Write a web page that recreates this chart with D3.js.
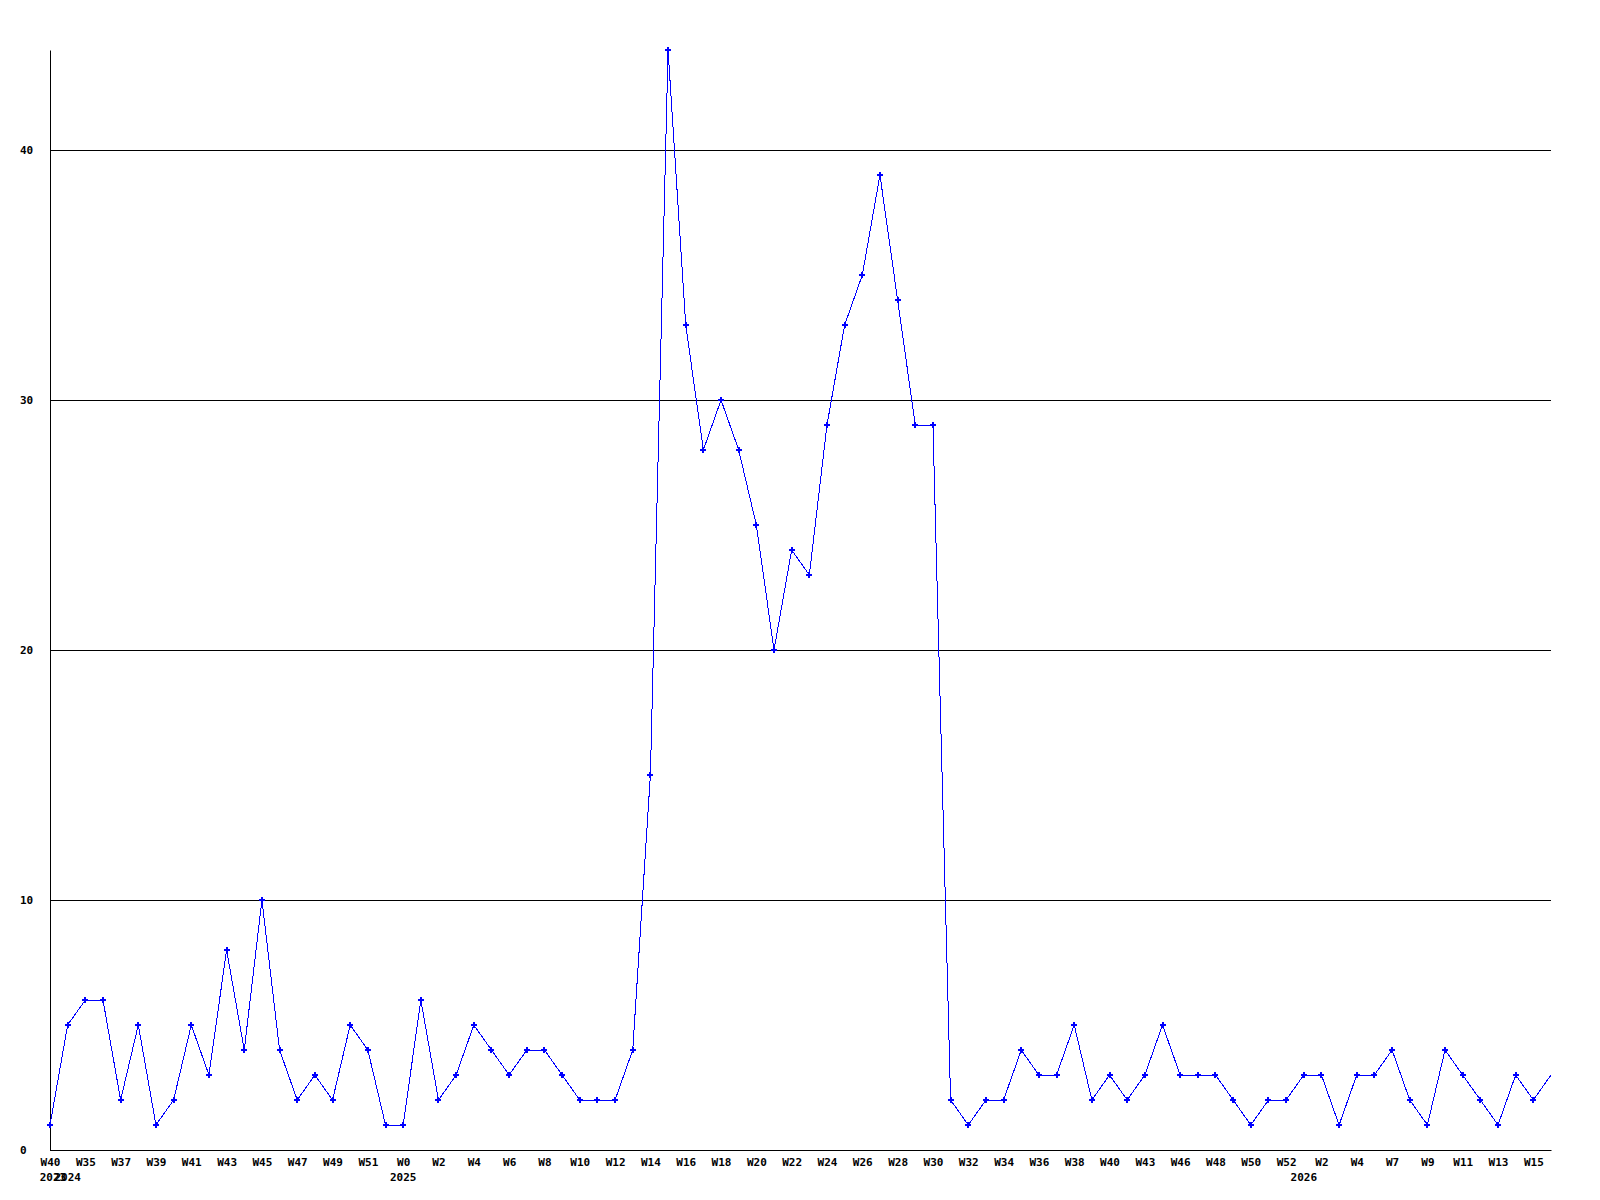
<!DOCTYPE html>
<meta charset="utf-8">
<style>
body { margin: 0; background: #fff; }
.chart text {
  font: bold 11px "DejaVu Sans Mono", monospace;
  fill: #000;
}
.axis path, .axis line { stroke: #000; }
.series { fill: none; stroke: #0000ff; stroke-width: 1; shape-rendering: crispEdges; }
.dot { fill: #0000ff; shape-rendering: crispEdges; }
</style>
<svg class="chart" width="1600" height="1200"></svg>
<script src="https://cdn.jsdelivr.net/npm/d3@7"></script>
<script>

// week labels, one per point
let weeks = [
  "W40", "W34", "W35", "W36", "W37", "W38", "W39", "W40", "W41", "W42",
  "W43", "W44", "W45", "W46", "W47", "W48", "W49", "W50", "W51", "W52",
  "W0", "W1", "W2", "W3", "W4", "W5", "W6", "W7", "W8", "W9",
  "W10", "W11", "W12", "W13", "W14", "W15", "W16", "W17", "W18", "W19",
  "W20", "W21", "W22", "W23", "W24", "W25", "W26", "W27", "W28", "W29",
  "W30", "W31", "W32", "W33", "W34", "W35", "W36", "W37", "W38", "W39",
  "W40", "W42", "W43", "W45", "W46", "W47", "W48", "W49", "W50", "W51",
  "W52", "W1", "W2", "W3", "W4", "W6", "W7", "W8", "W9", "W10",
  "W11", "W12", "W13", "W14", "W15", "W16"
];

let counts = [
  1, 5, 6, 6, 2, 5, 1, 2, 5, 3,
  8, 4, 10, 4, 2, 3, 2, 5, 4, 1,
  1, 6, 2, 3, 5, 4, 3, 4, 4, 3,
  2, 2, 2, 4, 15, 44, 33, 28, 30, 28,
  25, 20, 24, 23, 29, 33, 35, 39, 34, 29,
  29, 2, 1, 2, 2, 4, 3, 3, 5, 2,
  3, 2, 3, 5, 3, 3, 3, 2, 1, 2,
  2, 3, 3, 1, 3, 3, 4, 2, 1, 4,
  3, 2, 1, 3, 2, 3
];

// year markers: index of first point of each year
let yearStart = [0, 1, 20, 71];
let years = ["2023", "2024", "2025", "2026"];

let yTicks = [0, 10, 20, 30, 40];

let plotLeft = 50, plotRight = 1551, plotTop = 50, plotBottom = 1150;

let svg = d3.select(".chart");

let x = d3.scaleLinear()
    .domain([0, counts.length - 1])
    .range([plotLeft, plotRight]);

let y = d3.scaleLinear()
    .domain([0, 44])
    .range([plotBottom, plotTop]);

// y axis with grid lines
let yAxis = svg.append("g")
    .attr("class", "axis")
    .attr("transform", "translate(" + plotLeft + ",0)")
    .call(d3.axisLeft(y)
      .tickValues(yTicks)
      .tickSizeInner(-(plotRight - plotLeft))
      .tickSizeOuter(0)
      .tickFormat(d3.format("d")));

yAxis.selectAll("text")
    .attr("x", 20 - plotLeft)
    .attr("dy", "0.35em")
    .style("text-anchor", "start");

// x axis, every other week labelled
let xAxis = svg.append("g")
    .attr("class", "axis")
    .attr("transform", "translate(0," + plotBottom + ")")
    .call(d3.axisBottom(x)
      .tickValues(d3.range(0, counts.length, 2))
      .tickSize(0)
      .tickFormat(i => weeks[i]));

xAxis.selectAll("text")
    .attr("y", 16)
    .attr("dy", null);

// year labels under the first week of each year
svg.append("g")
  .selectAll("text")
  .data(yearStart)
  .enter().append("text")
    .attr("x", i => Math.max(x(i), plotLeft + 3))
    .attr("y", plotBottom + 31)
    .style("text-anchor", "middle")
    .text((d, i) => years[i]);

let line = d3.line()
    .x((d, i) => x(i))
    .y(d => y(d));

svg.append("path")
    .datum(counts)
    .attr("class", "series")
    .attr("d", line);

// markers (last point sits on the edge and has none)
svg.append("g")
  .selectAll("path")
  .data(counts.slice(0, -1))
  .enter().append("path")
    .attr("class", "dot")
    .attr("transform", (d, i) => "translate(" + x(i) + "," + y(d) + ")")
    .attr("d", d3.symbol().type(d3.symbolCross).size(20));

</script>
